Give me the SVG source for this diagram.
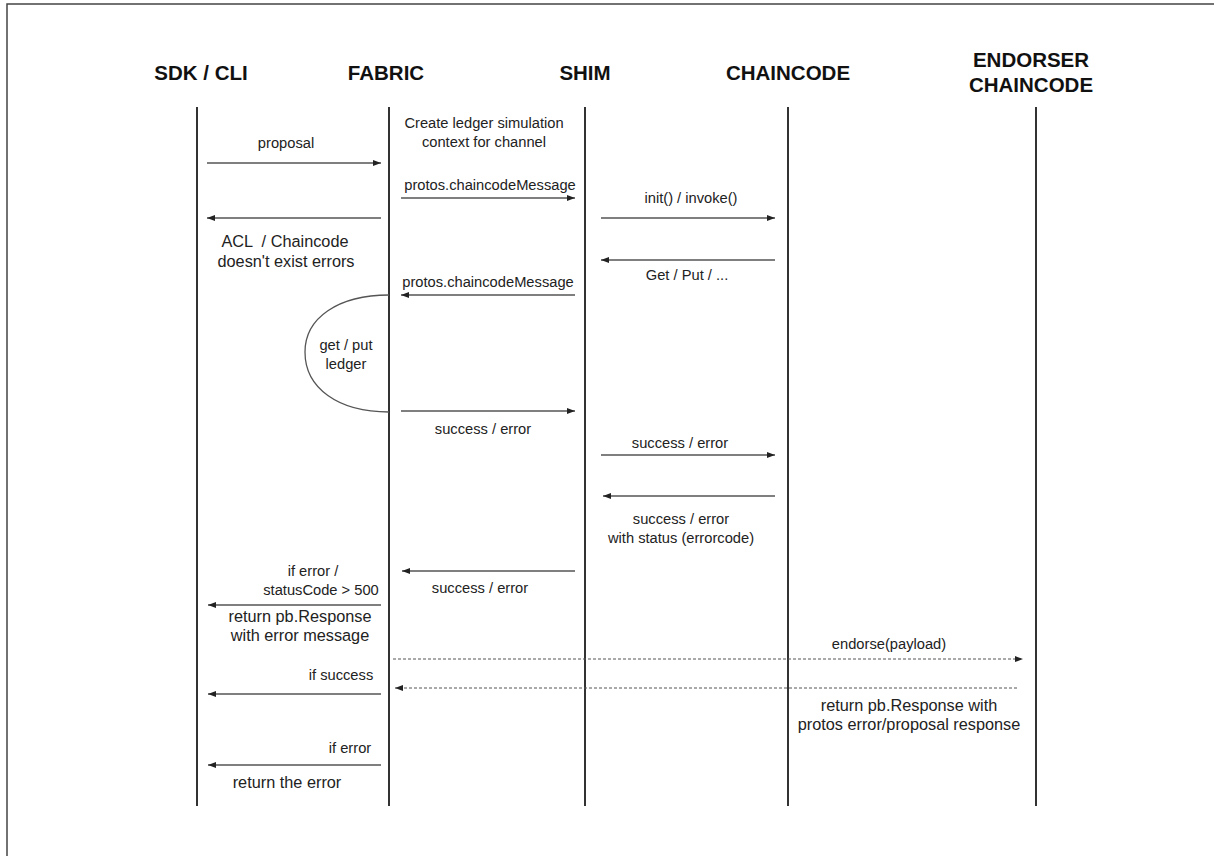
<svg xmlns="http://www.w3.org/2000/svg" width="1214" height="856" viewBox="0 0 1214 856">
<style>
.hd{font-family:"Liberation Sans",Arial,sans-serif;font-size:20.5px;font-weight:bold;fill:#111;text-anchor:middle}
.lb{font-family:"Liberation Sans",Arial,sans-serif;font-size:14.7px;fill:#222;text-anchor:middle}
.lg{font-size:16.3px;white-space:pre}
.life{stroke:#333;stroke-width:2;fill:none}
.msg{stroke:#555;stroke-width:1.3;fill:none}
.dash{stroke:#555;stroke-width:1;stroke-dasharray:3 2;fill:none}
</style>
<defs>
<marker id="ah" viewBox="0 0 8 6" refX="8" refY="3" markerWidth="8" markerHeight="6" markerUnits="userSpaceOnUse" orient="auto">
<path d="M0,0 L8,3 L0,6 z" fill="#222"/>
</marker>
</defs>
<rect x="0" y="0" width="1214" height="856" fill="#fff"/>
<path d="M7,856 V4 H1214" stroke="#444" stroke-width="1.5" fill="none"/>

<g id="sdk">
<text class="hd" x="201" y="80">SDK / CLI</text>
<line class="life" x1="197" y1="107" x2="197" y2="806"/>
</g>
<g id="fabric">
<text class="hd" x="386" y="80">FABRIC</text>
<line class="life" x1="389" y1="107" x2="389" y2="806"/>
</g>
<g id="shim">
<text class="hd" x="585" y="80">SHIM</text>
<line class="life" x1="585" y1="107" x2="585" y2="806"/>
</g>
<g id="chaincode">
<text class="hd" x="788" y="80">CHAINCODE</text>
<line class="life" x1="788" y1="107" x2="788" y2="806"/>
</g>
<g id="endorser">
<text class="hd" x="1031" y="67">ENDORSER</text>
<text class="hd" x="1031" y="92">CHAINCODE</text>
<line class="life" x1="1036" y1="107" x2="1036" y2="806"/>
</g>

<g id="connectors">
<line class="msg" x1="207" y1="163" x2="381" y2="163" marker-end="url(#ah)"/>
<line class="msg" x1="401" y1="198" x2="575" y2="198" marker-end="url(#ah)"/>
<line class="msg" x1="601" y1="218" x2="775" y2="218" marker-end="url(#ah)"/>
<line class="msg" x1="381" y1="218" x2="207" y2="218" marker-end="url(#ah)"/>
<line class="msg" x1="775" y1="260" x2="601" y2="260" marker-end="url(#ah)"/>
<line class="msg" x1="575" y1="295" x2="401" y2="295" marker-end="url(#ah)"/>
<path class="msg" d="M389,295 C338,295 305,318 305,352 C305,388 338,412 389,412"/>
<line class="msg" x1="401" y1="411" x2="575" y2="411" marker-end="url(#ah)"/>
<line class="msg" x1="601" y1="455" x2="775" y2="455" marker-end="url(#ah)"/>
<line class="msg" x1="775" y1="496" x2="603" y2="496" marker-end="url(#ah)"/>
<line class="msg" x1="575" y1="571" x2="402" y2="571" marker-end="url(#ah)"/>
<line class="msg" x1="381" y1="605" x2="208" y2="605" marker-end="url(#ah)"/>
<line class="dash" x1="393" y1="659" x2="1023" y2="659" marker-end="url(#ah)"/>
<line class="dash" x1="1017" y1="688" x2="395" y2="688" marker-end="url(#ah)"/>
<line class="msg" x1="381" y1="694" x2="208" y2="694" marker-end="url(#ah)"/>
<line class="msg" x1="381" y1="765" x2="208" y2="765" marker-end="url(#ah)"/>
</g>

<g id="labels">
<text class="lb" x="286" y="148">proposal</text>
<text class="lb" x="484" y="128">Create ledger simulation</text>
<text class="lb" x="484" y="147">context for channel</text>
<text class="lb" x="490" y="190">protos.chaincodeMessage</text>
<text class="lb" x="691" y="203">init() / invoke()</text>
<text class="lb lg" x="285" y="247">ACL  / Chaincode</text>
<text class="lb lg" x="286" y="267">doesn't exist errors</text>
<text class="lb" x="687" y="280">Get / Put / ...</text>
<text class="lb" x="488" y="287">protos.chaincodeMessage</text>
<text class="lb" x="346" y="350">get / put</text>
<text class="lb" x="346" y="369">ledger</text>
<text class="lb" x="483" y="434">success / error</text>
<text class="lb" x="680" y="448">success / error</text>
<text class="lb" x="681" y="524">success / error</text>
<text class="lb" x="681" y="543">with status (errorcode)</text>
<text class="lb" x="480" y="593">success / error</text>
<text class="lb" x="313" y="576">if error /</text>
<text class="lb" x="321" y="595">statusCode &gt; 500</text>
<text class="lb lg" x="300" y="622">return pb.Response</text>
<text class="lb lg" x="300" y="641">with error message</text>
<text class="lb" x="889" y="649">endorse(payload)</text>
<text class="lb" x="341" y="680">if success</text>
<text class="lb lg" x="909" y="711">return pb.Response with</text>
<text class="lb lg" x="909" y="730">protos error/proposal response</text>
<text class="lb" x="350" y="753">if error</text>
<text class="lb lg" x="287" y="788">return the error</text>
</g>
</svg>
